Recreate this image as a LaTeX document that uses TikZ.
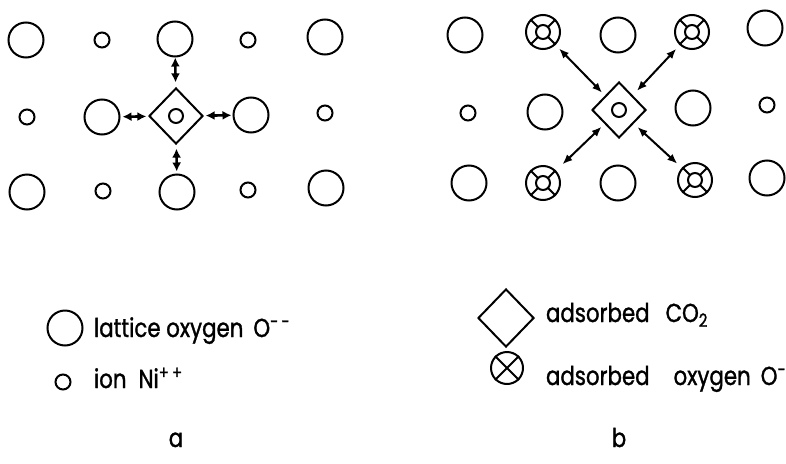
\documentclass[tikz,border=0pt]{standalone}
\usepackage{fontspec}
\setmainfont{Poppins}[FakeStretch=0.82,FakeBold=1.2]
\usetikzlibrary{shapes.geometric,arrows.meta}
\begin{document}
\begin{tikzpicture}[x=1pt,y=-1pt,line width=2pt,
  big/.style={circle,draw,minimum size=35pt,inner sep=0pt},
  small/.style={circle,draw,minimum size=15pt,inner sep=0pt},
  ion/.style={circle,draw,fill=white,minimum size=14pt,inner sep=0pt},
  ads/.style={diamond,draw,minimum width=54pt,minimum height=56pt,inner sep=0pt},
  xo/.style={circle,draw,minimum size=34pt,inner sep=0pt},
  dbl/.style={{Latex[length=9pt,width=9pt]}-{Latex[length=9pt,width=9pt]},line width=2.6pt},
  dblb/.style={{Latex[length=10pt,width=8pt]}-{Latex[length=10pt,width=8pt]},line width=2pt},
  lbl/.style={anchor=base west,font=\fontsize{26}{30}\selectfont,inner sep=0pt},
  panellbl/.style={anchor=base,font=\fontsize{26}{30}\selectfont,inner sep=0pt}]
\useasboundingbox (0,0) rectangle (786,463);
% ---------- panel a ----------
\node[big]   (a11) at (26,40) {};
\node[small] (a12) at (102,40) {};
\node[big]   (a13) at (175,39) {};
\node[small] (a14) at (248,40) {};
\node[big]   (a15) at (325,37) {};
\node[small] (a21) at (27,117) {};
\node[big]   (a22) at (102,117) {};
\node[ads]   (ad)  at (176,116) {};
\node[small,minimum size=14pt] (ai) at (176,116) {};
\node[big]   (a24) at (251,115) {};
\node[small] (a25) at (325,113) {};
\node[big]   (a31) at (27,192) {};
\node[small] (a32) at (103,191) {};
\node[big]   (a33) at (177,192) {};
\node[small] (a34) at (248,190) {};
\node[big]   (a35) at (326,188) {};
\draw[dbl,shorten >=5pt] (a13) -- (ad);
\draw[dbl,shorten >=4pt,shorten <=2pt] (a33) -- (ad);
\draw[dbl,shorten >=2pt,shorten <=2pt] (a22) -- (ad);
\draw[dbl,shorten >=2pt,shorten <=1pt] (a24) -- (ad);
% ---------- panel b ----------
\node[big]   (b11) at (465,35) {};
\node[xo]    (b12) at (543,32) {};
\node[big]   (b13) at (618,35) {};
\node[xo]    (b14) at (692,32) {};
\node[big]   (b15) at (765,28) {};
\node[small] (b21) at (468,113) {};
\node[big]   (b22) at (545,112) {};
\node[ads]   (bd)  at (619,110) {};
\node[small,minimum size=14pt] (bi) at (619,110) {};
\node[big]   (b24) at (693,108) {};
\node[small] (b25) at (767,105) {};
\node[big]   (b31) at (469,183) {};
\node[xo]    (b32) at (543,183) {};
\node[big]   (b33) at (618,183) {};
\node[xo]    (b34) at (695,180) {};
\node[big]   (b35) at (767,178) {};
\foreach \n in {b12,b14,b32,b34}{
  \draw (\n.45) -- (\n.225) (\n.135) -- (\n.315);
  \node[ion] at (\n) {};
}
\draw[dblb,shorten <=5pt,shorten >=4pt] (b12) -- (bd);
\draw[dblb,shorten <=5pt,shorten >=6pt] (b14) -- (bd);
\draw[dblb,shorten <=9pt,shorten >=4pt] (b32) -- (bd);
\draw[dblb,shorten <=6pt,shorten >=5pt] (b34) -- (bd);
% ---------- legend ----------
\node[big] (l1) at (65,328) {};
\node[lbl] (t1) at (93,337) {lattice oxygen\hspace{10pt}O\textsuperscript{-\,-}};
\node[small] (l2) at (63,382) {};
\node[lbl] (t2) at (93,388) {ion\hspace{12pt}Ni\textsuperscript{+\,+}};
\node[ads,minimum width=56pt,minimum height=58pt] (l3) at (506,318) {};
\node[lbl] (t3) at (545,322) {adsorbed\hspace{16pt}CO\textsubscript{2}};
\node[xo,minimum size=32pt] (l4) at (507,368) {};
\draw (l4.45) -- (l4.225) (l4.135) -- (l4.315);
\node[lbl] (t4) at (545,385) {adsorbed\hspace{24pt}oxygen\hspace{10pt}O\textsuperscript{-}};
\node[panellbl] (ca) at (176,447) {a};
\node[panellbl] (cb) at (619,447) {b};
\end{tikzpicture}
\end{document}
